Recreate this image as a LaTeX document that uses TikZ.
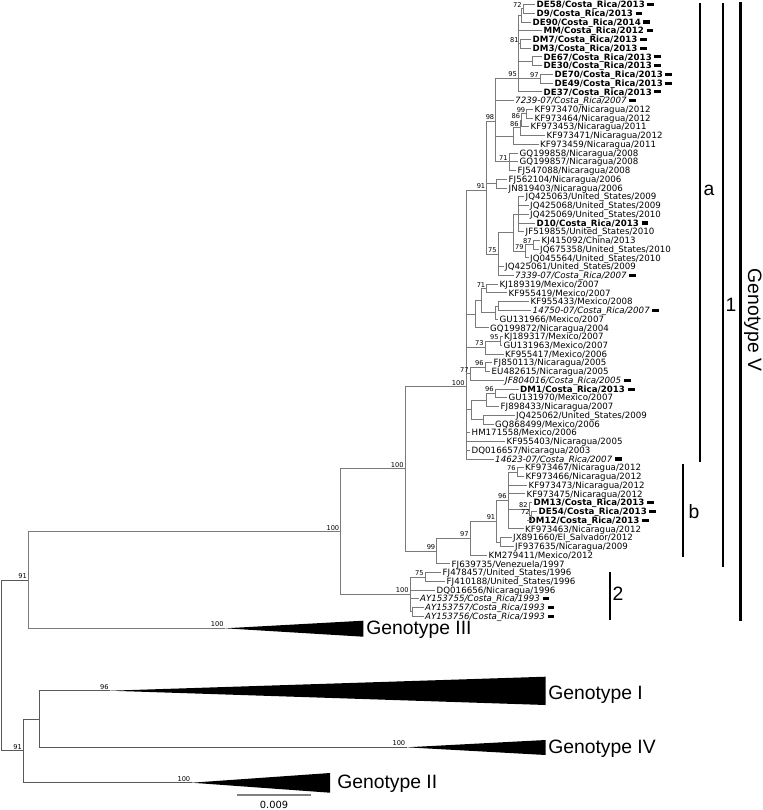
\documentclass[tikz,border=0pt]{standalone}
\usepackage{fontspec}
\setmainfont{DejaVu Sans}[ItalicFont={DejaVu Sans Oblique},BoldFont={DejaVu Sans Bold}]
\newfontfamily\genofont{Liberation Sans}
\definecolor{branch}{gray}{0.48}
\definecolor{stem}{gray}{0.35}
\tikzset{leaf/.style={anchor=west,inner sep=1.1pt,font=\fontsize{6.5}{7}\selectfont,text height=4.7pt,text depth=0pt},
         boot/.style={anchor=south east,inner sep=0.9pt,font=\fontsize{5}{5}\selectfont},
         edge/.style={draw=branch,line width=0.7pt},
         geno/.style={font=\genofont\fontsize{14.5}{15}\selectfont,inner sep=0pt},
         cladebar/.style={line width=1.1pt}}
\newcommand\crm{\hspace{2pt}\rule[1.2pt]{5.2pt}{2.3pt}}
\newcommand\leaf[4]{\node[leaf] (#1) at (#2,{4.5+8.74*(#3-1)}) {#4};}

\begin{document}
\begin{tikzpicture}[x=0.75pt,y=-0.75pt]
  \useasboundingbox (0,0) rectangle (763,810);
  % taxa of genotype V, top to bottom
  \leaf{DE58}{535}{1}{\textbf{DE58/Costa\_Rica/2013}\crm}
  \leaf{D9}{535}{2}{\textbf{D9/Costa\_Rica/2013}\crm}
  \leaf{DE90}{531}{3}{\textbf{DE90/Costa\_Rica/2014}\crm}
  \leaf{MM}{542}{4}{\textbf{MM/Costa\_Rica/2012}\crm}
  \leaf{DM7}{531}{5}{\textbf{DM7/Costa\_Rica/2013}\crm}
  \leaf{DM3}{531}{6}{\textbf{DM3/Costa\_Rica/2013}\crm}
  \leaf{DE67}{542}{7}{\textbf{DE67/Costa\_Rica/2013}\crm}
  \leaf{DE30}{542}{8}{\textbf{DE30/Costa\_Rica/2013}\crm}
  \leaf{DE70}{553}{9}{\textbf{DE70/Costa\_Rica/2013}\crm}
  \leaf{DE49}{553}{10}{\textbf{DE49/Costa\_Rica/2013}\crm}
  \leaf{DE37}{542}{11}{\textbf{DE37/Costa\_Rica/2013}\crm}
  \leaf{c7239}{513.5}{12}{\textit{7239-07/Costa\_Rica/2007}\crm}
  \leaf{KF973470}{533}{13}{KF973470/Nicaragua/2012}
  \leaf{KF973464}{533}{14}{KF973464/Nicaragua/2012}
  \leaf{KF973453}{529}{15}{KF973453/Nicaragua/2011}
  \leaf{KF973471}{545}{16}{KF973471/Nicaragua/2012}
  \leaf{KF973459}{538.5}{17}{KF973459/Nicaragua/2011}
  \leaf{GQ199858}{518}{18}{GQ199858/Nicaragua/2008}
  \leaf{GQ199857}{518}{19}{GQ199857/Nicaragua/2008}
  \leaf{FJ547088}{516}{20}{FJ547088/Nicaragua/2008}
  \leaf{FJ562104}{507}{21}{FJ562104/Nicaragua/2006}
  \leaf{JN819403}{507}{22}{JN819403/Nicaragua/2006}
  \leaf{JQ425063}{524}{23}{JQ425063/United\_States/2009}
  \leaf{JQ425068}{528.5}{24}{JQ425068/United\_States/2009}
  \leaf{JQ425069}{528.5}{25}{JQ425069/United\_States/2010}
  \leaf{D10}{535}{26}{\textbf{D10/Costa\_Rica/2013}\crm}
  \leaf{JF519855}{524}{27}{JF519855/United\_States/2010}
  \leaf{KJ415092}{540}{28}{KJ415092/China/2013}
  \leaf{JQ675358}{538.5}{29}{JQ675358/United\_States/2010}
  \leaf{JQ045564}{528.5}{30}{JQ045564/United\_States/2010}
  \leaf{JQ425061}{503.5}{31}{JQ425061/United\_States/2009}
  \leaf{c7339}{513.5}{32}{\textit{7339-07/Costa\_Rica/2007}\crm}
  \leaf{KJ189319}{498}{33}{KJ189319/Mexico/2007}
  \leaf{KF955419}{507}{34}{KF955419/Mexico/2007}
  \leaf{KF955433}{529}{35}{KF955433/Mexico/2008}
  \leaf{c14750}{531}{36}{\textit{14750-07/Costa\_Rica/2007}\crm}
  \leaf{GU131966}{498}{37}{GU131966/Mexico/2007}
  \leaf{GQ199872}{488.5}{38}{GQ199872/Nicaragua/2004}
  \leaf{KJ189317}{502.5}{39}{KJ189317/Mexico/2007}
  \leaf{GU131963}{502}{40}{GU131963/Mexico/2007}
  \leaf{KF955417}{503.5}{41}{KF955417/Mexico/2006}
  \leaf{FJ850113}{492}{42}{FJ850113/Nicaragua/2005}
  \leaf{EU482615}{490}{43}{EU482615/Nicaragua/2005}
  \leaf{JF804016}{503.5}{44}{\textit{JF804016/Costa\_Rica/2005}\crm}
  \leaf{DM1}{518.5}{45}{\textbf{DM1/Costa\_Rica/2013}\crm}
  \leaf{GU131970}{507}{46}{GU131970/Mexico/2007}
  \leaf{FJ898433}{499}{47}{FJ898433/Nicaragua/2007}
  \leaf{JQ425062}{514.5}{48}{JQ425062/United\_States/2009}
  \leaf{GQ868499}{493.5}{49}{GQ868499/Mexico/2006}
  \leaf{HM171558}{470}{50}{HM171558/Mexico/2006}
  \leaf{KF955403}{505}{51}{KF955403/Nicaragua/2005}
  \leaf{DQ016657}{470}{52}{DQ016657/Nicaragua/2003}
  \leaf{c14623}{493.5}{53}{\textit{14623-07/Costa\_Rica/2007}\crm}
  \leaf{KF973467}{523.5}{54}{KF973467/Nicaragua/2012}
  \leaf{KF973466}{524}{55}{KF973466/Nicaragua/2012}
  \leaf{KF973473}{527}{56}{KF973473/Nicaragua/2012}
  \leaf{KF973475}{525}{57}{KF973475/Nicaragua/2012}
  \leaf{DM13}{532}{58}{\textbf{DM13/Costa\_Rica/2013}\crm}
  \leaf{DE54}{537}{59}{\textbf{DE54/Costa\_Rica/2013}\crm}
  \leaf{DM12}{527}{60}{\textbf{DM12/Costa\_Rica/2013}\crm}
  \leaf{KF973463}{523.5}{61}{KF973463/Nicaragua/2012}
  \leaf{JX891660}{511.5}{62}{JX891660/El\_Salvador/2012}
  \leaf{JF937635}{513.5}{63}{JF937635/Nicaragua/2009}
  \leaf{KM279411}{487}{64}{KM279411/Mexico/2012}
  \leaf{FJ639735}{450}{65}{FJ639735/Venezuela/1997}
  \leaf{FJ478457}{441}{66}{FJ478457/United\_States/1996}
  \leaf{FJ410188}{445}{67}{FJ410188/United\_States/1996}
  \leaf{DQ016656}{435}{68}{DQ016656/Nicaragua/1996}
  \leaf{AY153755}{418.5}{69}{\textit{AY153755/Costa\_Rica/1993}\crm}
  \leaf{AY153757}{423.5}{70}{\textit{AY153757/Costa\_Rica/1993}\crm}
  \leaf{AY153756}{423.5}{71}{\textit{AY153756/Costa\_Rica/1993}\crm}

  % internal nodes
  \coordinate (n72) at (523,8.87);
  \coordinate (nu1) at (521,15.43);
  \coordinate (n81) at (520,43.83);
  \coordinate (nup) at (518.8,29.63);
  \coordinate (n6730) at (532,61.31);
  \coordinate (n97a) at (540,78.79);
  \coordinate (n95) at (518.3,78);
  \coordinate (n99b) at (526.7,113.75);
  \coordinate (n86a) at (521.5,120.3);
  \coordinate (n86b) at (520,127.95);
  \coordinate (nnic) at (513.3,136.1);
  \coordinate (n71a) at (509,161.82);
  \coordinate (n98) at (495.7,121);
  \coordinate (nfj) at (496.7,183.67);
  \coordinate (nusa) at (518,214.26);
  \coordinate (n87) at (533,244.85);
  \coordinate (n79) at (525,251.4);
  \coordinate (nus) at (513,232.83);
  \coordinate (n75) at (498,254.1);
  \coordinate (n91b) at (486.7,190);
  \coordinate (n71b) at (486.7,288.55);
  \coordinate (nm3) at (498,306.03);
  \coordinate (nm2) at (495,312.6);
  \coordinate (nm1) at (481,300.6);
  \coordinate (nm0) at (475,314.2);
  \coordinate (n95b) at (500,340.99);
  \coordinate (n73) at (485,347.5);
  \coordinate (n96b) at (485,367.21);
  \coordinate (n77) at (470,373.8);
  \coordinate (n96c) at (495,393.43);
  \coordinate (nd2) at (486.7,399.99);
  \coordinate (nd3) at (483.3,419.65);
  \coordinate (nd4) at (471,409.8);
  \coordinate (n1a) at (466,386.7);
  \coordinate (n76) at (517,472.09);
  \coordinate (n72b) at (531,515.79);
  \coordinate (n82) at (529,509.2);
  \coordinate (n96d) at (508,500.5);
  \coordinate (njj) at (500,542.01);
  \coordinate (n91) at (496.7,521.3);
  \coordinate (n97) at (470,538.2);
  \coordinate (n99) at (436.7,551);
  \coordinate (nA) at (405,468.85);
  \coordinate (n75c) at (425,576.97);
  \coordinate (nay) at (412,611.93);
  \coordinate (n2) at (410,594.5);
  \coordinate (nGV) at (340.7,531.7);
  \coordinate (g3) at (225,628.3);
  \coordinate (n28) at (28.3,580);
  \coordinate (g1) at (110,690.7);
  \coordinate (g4) at (406.7,747.3);
  \coordinate (n39) at (39.3,719);
  \coordinate (g2) at (191.7,782.7);
  \coordinate (n23) at (23.3,750.85);
  \coordinate (root) at (1,665.4);

  % branches
  \foreach \p/\c in {n72/DE58,n72/D9,nu1/n72,nu1/DE90,n81/DM7,n81/DM3,nup/nu1,nup/MM,nup/n81,
      n6730/DE67,n6730/DE30,n97a/DE70,n97a/DE49,n95/nup,n95/n6730,n95/n97a,n95/DE37,
      n99b/KF973470,n99b/KF973464,n86a/n99b,n86a/KF973453,n86b/n86a,n86b/KF973471,
      nnic/n86b,nnic/KF973459,n71a/GQ199858,n71a/GQ199857,n71a/FJ547088,
      n98/n95,n98/c7239,n98/nnic,n98/n71a,nfj/FJ562104,nfj/JN819403,
      nusa/JQ425063,nusa/JQ425068,nusa/JQ425069,nusa/D10,nusa/JF519855,
      n87/KJ415092,n87/JQ675358,n79/n87,n79/JQ045564,nus/nusa,nus/n79,
      n75/nus,n75/JQ425061,n75/c7339,n91b/n98,n91b/nfj,n91b/n75,
      n71b/KJ189319,n71b/KF955419,nm3/KF955433,nm3/c14750,nm2/nm3,nm2/GU131966,
      nm1/n71b,nm1/nm2,nm0/nm1,nm0/GQ199872,n95b/KJ189317,n95b/GU131963,
      n73/n95b,n73/KF955417,n96b/FJ850113,n96b/EU482615,n77/n96b,n77/JF804016,
      n96c/DM1,n96c/GU131970,nd2/n96c,nd2/FJ898433,nd3/JQ425062,nd3/GQ868499,
      nd4/nd2,nd4/nd3,n1a/n91b,n1a/nm0,n1a/n73,n1a/n77,n1a/nd4,
      n1a/HM171558,n1a/KF955403,n1a/DQ016657,n1a/c14623,
      n76/KF973467,n76/KF973466,n72b/DE54,n72b/DM12,n82/DM13,n82/n72b,
      n96d/n76,n96d/KF973473,n96d/KF973475,n96d/n82,n96d/KF973463,
      njj/JX891660,njj/JF937635,n91/n96d,n91/njj,n97/n91,n97/KM279411,
      n99/n97,n99/FJ639735,nA/n1a,nA/n99,
      n75c/FJ478457,n75c/FJ410188,nay/AY153757,nay/AY153756,
      n2/n75c,n2/DQ016656,n2/AY153755,n2/nay,nGV/nA,nGV/n2,n28/nGV,n28/g3}
    \draw[edge] (\p) |- (\c);
  \foreach \p/\c in {n39/g1,n39/g4,n23/n39,n23/g2,root/n28,root/n23}
    \draw[edge,draw=stem] (\p) |- (\c);

  % support values
  \foreach \n/\v in {n72/72,n81/81,n95/95,n97a/97,n99b/99,n86a/86,n86b/86,n98/98,n71a/71,
      n91b/91,n87/87,n79/79,n75/75,n71b/71,n95b/95,n73/73,n96b/96,n77/77,n1a/100,
      n96c/96,n76/76,n96d/96,n82/82,n72b/72,n91/91,n97/97,n99/99,nA/100,nGV/100,
      n75c/75,n2/100,n28/91,g3/100,g1/96,g4/100,g2/100,n23/91}
    \node[boot] (b\n) at (\n) {\v};

  % collapsed genotypes
  \fill (g3) -- (363.3,620.7) -- (363.3,636.7) -- cycle;
  \fill (g1) -- (545.7,676.7) -- (545.7,705) -- cycle;
  \fill (g4) -- (545.7,740) -- (545.7,755) -- cycle;
  \fill (g2) -- (330,773) -- (330,792.7) -- cycle;
  \node[geno,anchor=west] (lab3) at (366,630) {Genotype III};
  \node[geno,anchor=west] (lab1) at (548,695) {Genotype I};
  \node[geno,anchor=west] (lab4) at (548,749) {Genotype IV};
  \node[geno,anchor=west] (lab2) at (337,784) {Genotype II};

  % clade bars
  \draw[line width=2.3pt] (740.5,2) -- (740.5,621);
  \draw[cladebar] (723,3) -- (723,567);
  \draw[cladebar] (700,3) -- (700,462);
  \draw[cladebar] (683,464) -- (683,557);
  \draw[cladebar] (610,572) -- (610,620);
  \node[geno] (laba) at (709,190) {a};
  \node[geno] (lab1c) at (731,305) {1};
  \node[geno] (labb) at (694,512) {b};
  \node[geno] (lab2c) at (618,594) {2};
  \node[geno,rotate=-90,anchor=north] (labV) at (762,320) {Genotype V};

  % scale
  \coordinate (sc0) at (237.3,795);
  \coordinate (sc1) at (310.7,795);
  \draw[draw=gray,line width=1pt] (sc0) -- (sc1);
  \node[font=\fontsize{7.4}{8}\selectfont] (sclab) at (274,805) {0.009};
\end{tikzpicture}
\end{document}
